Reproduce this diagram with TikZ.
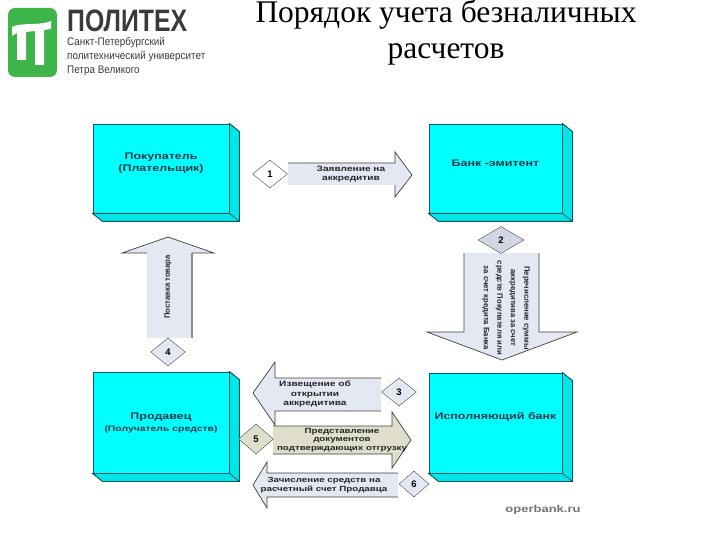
\documentclass[tikz,border=0pt]{standalone}
\usepackage{fontspec}
\usepackage{xcolor}
\usepackage{tikz}
\usetikzlibrary{shapes.geometric,positioning}
\setmainfont{Liberation Serif}
\setsansfont{Liberation Sans}
\newfontfamily\widefont[FakeStretch=1.3]{Liberation Sans}
\newfontfamily\logofont[FakeStretch=0.8]{Liberation Sans}
\newfontfamily\logosmallfont[FakeStretch=0.9]{Liberation Sans}
\definecolor{blockfront}{HTML}{00FFFF}
\definecolor{blockside}{HTML}{00E6E6}
\definecolor{blockedge}{HTML}{0B5560}
\definecolor{blocktext}{HTML}{17384A}
\definecolor{paleblue}{HTML}{E4E8F3}
\definecolor{midblue}{HTML}{D2D6E2}
\definecolor{paleolive}{HTML}{DEDECA}
\definecolor{logogreen}{HTML}{3DB54A}
\definecolor{logotext}{HTML}{3A3A3A}
\begin{document}
\begin{tikzpicture}[
		x=1pt,y=-1pt,
		block/.style={draw=blockedge,fill=blockfront,line width=0.9pt,inner sep=0pt},
		blocklabel/.style={align=center,text=blocktext,font=\widefont\bfseries\fontsize{9.6}{12}\selectfont},
		step label/.style={diamond,draw=black!70,fill=#1,inner sep=0pt,minimum width=35pt,minimum height=28pt,font=\sffamily\bfseries\fontsize{9.5}{10}\selectfont},
		flow/.style={fill=#1},
		flow edge/.style={draw=black!75,line width=0.7pt},
		flowlabel/.style={align=center,text=black!85,font=\widefont\bfseries\fontsize{7.8}{9.5}\selectfont},
		uplabel/.style={align=center,text=black!85,font=\sffamily\bfseries\fontsize{7.7}{13.5}\selectfont},
		logoline/.style={anchor=west,inner sep=0pt,text=logotext,font=\logosmallfont\fontsize{11}{11}\selectfont}
	]
	\useasboundingbox (0,0) rectangle (720,540);

	% logo
	\fill[logogreen,rounded corners=7pt] (8,8) rectangle (57,77);
	\fill[white] (12,27) .. controls (22,22) and (40,26) .. (51,21) -- (51,29) -- (44,30) -- (44,65) -- (35,65) -- (35,31) -- (26,32) -- (26,60) -- (17,60) -- (17,33) -- (12,36) -- cycle;
	\node[anchor=south west,inner sep=0pt,text height=22pt,text depth=0pt,text=logotext,font=\logofont\bfseries\fontsize{31}{31}\selectfont] (logoname) at (67,32) {ПОЛИТЕХ};
	\node[logoline] (logoa) at (67,42.5) {Санкт-Петербургский};
	\node[logoline] (logob) at (67,57) {политехнический университет};
	\node[logoline] (logoc) at (67,71) {Петра Великого};

	% title
	\node[align=center,font=\rmfamily\fontsize{31.5}{36}\selectfont] (title) at (446,33) {Порядок учета безналичных\\расчетов};

	% blocks
	\node[block,minimum width=136pt,minimum height=89pt] (buyer) at (161,168.5) {};
	\node[block,minimum width=133pt,minimum height=89pt] (issuer) at (495.5,168.5) {};
	\node[block,minimum width=136pt,minimum height=101pt] (seller) at (161,422.5) {};
	\node[block,minimum width=133pt,minimum height=100pt] (execbank) at (495.5,423) {};

	\foreach \blk in {buyer,issuer,seller,execbank} {
		\filldraw[blockside,draw=blockedge,line width=0.9pt] (\blk.north east) -- ++(10,8) -- ([xshift=10pt,yshift=-8pt]\blk.south east) -- ([xshift=10pt,yshift=-8pt]\blk.south west) -- (\blk.south west) -- (\blk.south east) -- cycle;
		\draw[blockedge,line width=0.7pt] (\blk.south east) -- ++(10,8);
	}

	\node[blocklabel] (buyerlabel) at ([yshift=5pt]buyer.center) {Покупатель\\(Плательщик)};
	\node[blocklabel] (issuerlabel) at ([yshift=5.5pt]issuer.center) {Банк -эмитент};
	\node[blocklabel] (sellerlabel) at ([yshift=-0.5pt]seller.center) {Продавец\\{\widefont\fontsize{8}{10}\selectfont (Получатель средств)}};
	\node[blocklabel] (execlabel) at ([yshift=6pt]execbank.center) {Исполняющий банк};

	% arrow 1
	\fill[flow=paleblue] (288,163) -- (395,163) -- (395,152) -- (412,175) -- (395,197) -- (395,185) -- (288,185) -- cycle;
	\draw[flow edge] (288,163) -- (395,163) -- (395,152) -- (412,175) -- (395,197) -- (395,185);
	\node[flowlabel] (applylabel) at (351,174) {Заявление на\\аккредитив};
	\node[step label=white] (step1) at (270,174) {1};

	% arrow 2
	\fill[flow=paleblue] (464,253) -- (539,253) -- (539,332) -- (577,332) -- (502,360) -- (427,332) -- (464,332) -- cycle;
	\draw[flow edge] (464,253) -- (464,332) -- (427,332) -- (502,360) -- (577,332) -- (539,332) -- (539,253);
	\node[uplabel,rotate=-90] (paylabel) at (506,308) {Перечисление суммы\\аккредитива за счет\\средств Покупателя или\\за счет кредита Банка};
	\node[step label=midblue,minimum width=46pt,minimum height=27pt] (step2) at (501,240) {2};

	% arrow 4
	\fill[flow=paleblue] (147,338) -- (147,253) -- (122,253) -- (168,237) -- (214,253) -- (192,253) -- (192,338) -- cycle;
	\draw[flow edge] (147,253) -- (122,253) -- (168,237) -- (214,253) -- (192,253);
	\draw[black!45,line width=1.2pt] (192,253) -- (192,338);
	\node[uplabel,rotate=90] (supplylabel) at (168,287) {Поставка товара};
	\node[step label=paleblue] (step4) at (168,352) {4};

	% arrow 3
	\fill[flow=paleblue] (381,378) -- (275,378) -- (275,362) -- (253,393) -- (275,425) -- (275,411) -- (381,411) -- cycle;
	\draw[flow edge] (381,378) -- (275,378) -- (275,362) -- (253,393) -- (275,425) -- (275,411) -- (381,411);
	\node[flowlabel] (noticelabel) at (315,394) {Извещение об\\открытии\\аккредитива};
	\node[step label=paleblue] (step3) at (399,392) {3};

	% arrow 5
	\fill[flow=paleolive] (273,426) -- (392,426) -- (392,412) -- (411,440) -- (392,468) -- (392,454) -- (273,454) -- cycle;
	\draw[flow edge] (273,426) -- (392,426) -- (392,412) -- (411,440) -- (392,468) -- (392,454) -- (273,454);
	\node[flowlabel,font=\widefont\bfseries\fontsize{7.5}{8.7}\selectfont] (docslabel) at (342,440) {Представление\\документов\\подтверждающих отгрузку};
	\node[step label=paleolive,minimum height=30pt] (step5) at (256,439) {5};

	% arrow 6
	\fill[flow=paleblue] (398,473) -- (267,473) -- (267,462) -- (253,485) -- (267,508) -- (267,497) -- (398,497) -- cycle;
	\draw[flow edge] (398,473) -- (267,473) -- (267,462) -- (253,485) -- (267,508) -- (267,497) -- (398,497);
	\node[flowlabel,font=\widefont\bfseries\fontsize{7.5}{9}\selectfont] (creditlabel) at (324,485) {Зачисление средств на\\расчетный счет Продавца};
	\node[step label=paleblue,minimum width=30pt,minimum height=26pt] (step6) at (414,484) {6};

	\node[text=black!55,font=\widefont\bfseries\fontsize{10}{10}\selectfont] (source) at (543,510) {operbank.ru};
\end{tikzpicture}
\end{document}
